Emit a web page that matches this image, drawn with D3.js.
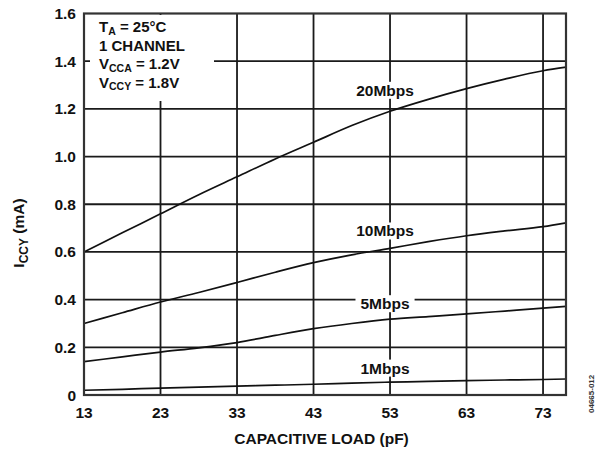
<!DOCTYPE html>
<html>
<head>
<meta charset="utf-8">
<script src="https://cdn.jsdelivr.net/npm/d3@7"></script>
<style>
  html, body { margin: 0; padding: 0; background: #fff; }
  svg { display: block; font-family: "Liberation Sans", Arial, sans-serif; font-weight: bold; }
</style>
</head>
<body>
<svg id="chart" width="600" height="451"></svg>
<script>
// Capacitive load (pF) sample points for each data-rate curve
const load = [13, 18, 23, 28, 33, 38, 43, 48, 53, 58, 63, 68, 73, 76];

// Supply current ICCY (mA) versus load
const icc20M = [0.60, 0.68, 0.76, 0.84, 0.915, 0.99, 1.06, 1.13, 1.19, 1.24, 1.285, 1.325, 1.36, 1.375];
const icc10M = [0.30, 0.345, 0.39, 0.43, 0.472, 0.515, 0.555, 0.588, 0.615, 0.643, 0.668, 0.688, 0.706, 0.722];
const icc5M  = [0.14, 0.16, 0.18, 0.198, 0.22, 0.25, 0.278, 0.30, 0.318, 0.329, 0.34, 0.352, 0.364, 0.372];
const icc1M  = [0.02, 0.024, 0.029, 0.033, 0.037, 0.041, 0.045, 0.05, 0.054, 0.057, 0.06, 0.063, 0.065, 0.067];

const seriesNames = ["20Mbps", "10Mbps", "5Mbps", "1Mbps"];
const seriesValues = [icc20M, icc10M, icc5M, icc1M];

const xTicks = [13, 23, 33, 43, 53, 63, 73];
const yTicks = [0, 0.2, 0.4, 0.6, 0.8, 1.0, 1.2, 1.4, 1.6];
const yTickLabels = ["0", "0.2", "0.4", "0.6", "0.8", "1.0", "1.2", "1.4", "1.6"];

// Curve label anchors (load, current) on the chart
const labelLoad = [53, 53, 53, 53];
const labelIcc = [1.28, 0.69, 0.385, 0.115];

const svg = d3.select("#chart");
const m = { left: 84, right: 34, top: 13.5, bottom: 56 };
const W = 600, H = 451;
const FS = 15.5, SUB = 12;

const x = d3.scaleLinear().domain([13, 76]).range([m.left, W - m.right]);
const y = d3.scaleLinear().domain([0, 1.6]).range([H - m.bottom, m.top]);

const grid = svg.append("g").attr("stroke", "#1a1a1a").attr("stroke-width", 1.8);

// horizontal grid
grid.selectAll("line.h").data(yTicks.slice(1, -1)).join("line")
  .attr("x1", x(13)).attr("x2", x(76))
  .attr("y1", d => y(d)).attr("y2", d => y(d));

// vertical grid
grid.selectAll("line.v").data(xTicks.slice(1)).join("line")
  .attr("y1", y(0)).attr("y2", y(1.6))
  .attr("x1", d => x(d)).attr("x2", d => x(d));

// curves
const line = d3.line().x((d, i) => x(load[i])).y(d => y(d)).curve(d3.curveMonotoneX);
svg.append("g").selectAll("path").data(seriesValues).join("path")
  .attr("d", d => line(d))
  .attr("fill", "none").attr("stroke", "#111").attr("stroke-width", 1.7);

// frame
svg.append("rect")
  .attr("x", x(13)).attr("y", y(1.6))
  .attr("width", x(76) - x(13)).attr("height", y(0) - y(1.6))
  .attr("fill", "none").attr("stroke", "#333").attr("stroke-width", 2.2);

// curve labels with white backing
const lab = svg.append("g");
seriesNames.forEach((name, i) => {
  const cx = x(labelLoad[i]) - 5, cy = y(labelIcc[i]);
  const t = lab.append("text").attr("x", cx).attr("y", cy + 6)
    .attr("text-anchor", "middle").attr("font-size", FS).attr("fill", "#111").text(name);
  const bb = t.node().getBBox();
  lab.insert("rect", "text").attr("x", bb.x - 5).attr("y", bb.y)
    .attr("width", bb.width + 10).attr("height", bb.height).attr("fill", "#fff");
});

// conditions box
const CFS = 15, CSUB = 10.5, CDY = 2.5;
const cond = svg.append("g");
cond.append("rect").attr("x", x(13) + 6).attr("y", y(1.6) + 1.5)
  .attr("width", 124).attr("height", 86).attr("fill", "#fff");
const lines = [
  [["T", 0], ["A", 1], [" = 25°C", 0]],
  [["1 CHANNEL", 0]],
  [["V", 0], ["CCA", 1], [" = 1.2V", 0]],
  [["V", 0], ["CCY", 1], [" = 1.8V", 0]]
];
lines.forEach((parts, li) => {
  const t = cond.append("text").attr("x", 99).attr("y", 32 + li * 18.5)
    .attr("font-size", CFS).attr("fill", "#111");
  let shifted = false;
  parts.forEach(([s, sub]) => {
    const dy = sub ? CDY : (shifted ? -CDY : 0);
    t.append("tspan").text(s).attr("font-size", sub ? CSUB : CFS).attr("dy", dy);
    shifted = !!sub;
  });
});

// y tick labels
svg.append("g").selectAll("text").data(yTicks).join("text")
  .attr("x", 76).attr("y", d => y(d) + 5.5)
  .attr("text-anchor", "end").attr("font-size", FS).attr("fill", "#111")
  .text((d, i) => yTickLabels[i]);

// x tick labels
svg.append("g").selectAll("text").data(xTicks).join("text")
  .attr("x", d => x(d)).attr("y", 418)
  .attr("text-anchor", "middle").attr("font-size", FS).attr("fill", "#111")
  .text(d => d);

// axis titles
svg.append("text").attr("x", x(43) + 8).attr("y", 444)
  .attr("text-anchor", "middle").attr("font-size", FS).attr("fill", "#111")
  .text("CAPACITIVE LOAD (pF)");

const yt = svg.append("text").attr("transform", "translate(24,233) rotate(-90)")
  .attr("text-anchor", "middle").attr("font-size", FS).attr("fill", "#111");
yt.append("tspan").text("I");
yt.append("tspan").attr("font-size", SUB).attr("dy", 4).text("CCY");
yt.append("tspan").attr("dy", -4).text(" (mA)");

// figure code
svg.append("text").attr("transform", "translate(594,413) rotate(-90)")
  .attr("font-size", 8).attr("fill", "#333")
  .text("04665-012");
</script>
</body>
</html>
